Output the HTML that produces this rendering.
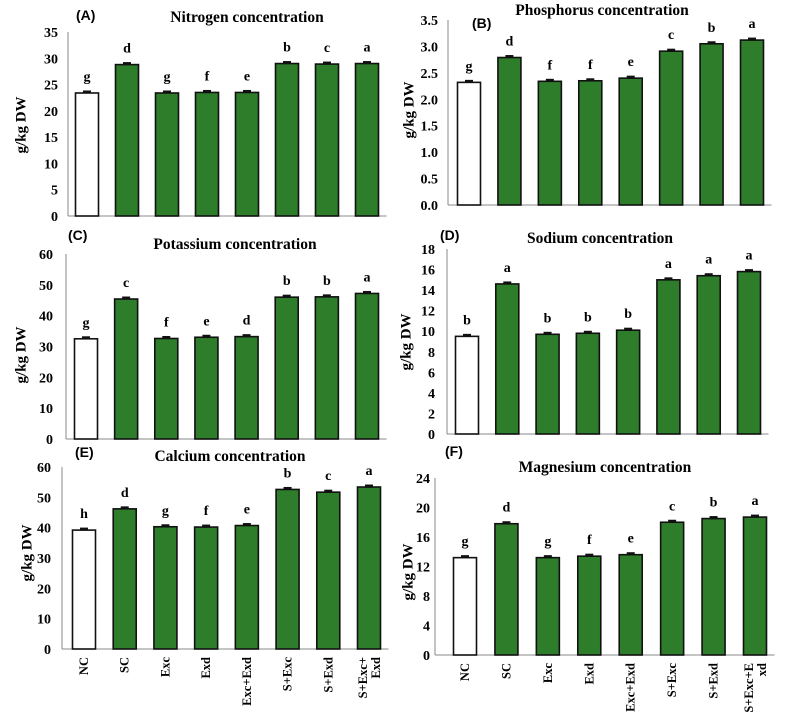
<!DOCTYPE html>
<html><head><meta charset="utf-8">
<style>
html,body{margin:0;padding:0;background:#fff;}
svg{display:block;font-family:"Liberation Serif","Times New Roman",serif;}
.tick,.title,.sig,.ytitle,.xl{font-family:"Liberation Serif","Times New Roman",serif;}
.tick{font-size:14px;font-weight:bold;}
.title{font-size:15.5px;font-weight:bold;}
.sig{font-size:14px;font-weight:bold;}
.plab{font-family:"Liberation Sans",sans-serif;font-size:14px;font-weight:bold;}
.ytitle{font-size:15px;font-weight:bold;}
.xl{font-size:12.5px;font-weight:bold;}
</style></head>
<body>
<svg id="fig" width="786" height="719" viewBox="0 0 786 719" xmlns="http://www.w3.org/2000/svg"></svg>
<script>
const categories = ["NC","SC","Exc","Exd","Exc+Exd","S+Exc","S+Exd","S+Exc+Exd"];
const nitrogenValues = [23.4, 28.8, 23.4, 23.5, 23.5, 29.0, 28.9, 29.0];
const nitrogenLetters = ["g","d","g","f","e","b","c","a"];
const phosphorusValues = [2.32, 2.79, 2.34, 2.35, 2.40, 2.91, 3.05, 3.12];
const phosphorusLetters = ["g","d","f","f","e","c","b","a"];
const potassiumValues = [32.5, 45.4, 32.6, 33.0, 33.2, 46.0, 46.1, 47.2];
const potassiumLetters = ["g","c","f","e","d","b","b","a"];
const sodiumValues = [9.5, 14.6, 9.7, 9.8, 10.1, 15.0, 15.4, 15.8];
const sodiumLetters = ["b","a","b","b","b","a","a","a"];
const calciumValues = [39.2, 46.2, 40.3, 40.2, 40.7, 52.6, 51.7, 53.4];
const calciumLetters = ["h","d","g","f","e","b","c","a"];
const magnesiumValues = [13.2, 17.8, 13.2, 13.4, 13.6, 18.0, 18.5, 18.7];
const magnesiumLetters = ["g","d","g","f","e","c","b","a"];
const nitrogenTicks = [0,5,10,15,20,25,30,35];
const phosphorusTicks = [0,0.5,1,1.5,2,2.5,3,3.5];
const potassiumTicks = [0,10,20,30,40,50,60];
const sodiumTicks = [0,2,4,6,8,10,12,14,16,18];
const calciumTicks = [0,10,20,30,40,50,60];
const magnesiumTicks = [0,4,8,12,16,20,24];

const svg = document.getElementById('fig');
const NS = 'http://www.w3.org/2000/svg';
function mk(tag, attrs, parent){
  const e = document.createElementNS(NS, tag);
  for (const k in attrs) e.setAttribute(k, attrs[k]);
  (parent||svg).appendChild(e);
  return e;
}

const panels = [
 {key:'nitrogen', letter:'(A)', title:'Nitrogen concentration', vals:nitrogenValues, lets:nitrogenLetters, ticks:nitrogenTicks, dec:0,
  ax:68, y0:216, yTop:32, c0:87, c1:367, tx:58, titleX:247, titleY:22, lx:76, ly:20, ytx:22, yty:125, xlabels:false},
 {key:'phosphorus', letter:'(B)', title:'Phosphorus concentration', vals:phosphorusValues, lets:phosphorusLetters, ticks:phosphorusTicks, dec:1,
  ax:448, y0:205, yTop:20, c0:469, c1:752, tx:438, titleX:602, titleY:15, lx:472, ly:28, ytx:410, yty:110, xlabels:false},
 {key:'potassium', letter:'(C)', title:'Potassium concentration', vals:potassiumValues, lets:potassiumLetters, ticks:potassiumTicks, dec:0,
  ax:66, y0:439, yTop:254, c0:86, c1:367, tx:53, titleX:235, titleY:249, lx:68, ly:240, ytx:22, yty:355, xlabels:false},
 {key:'sodium', letter:'(D)', title:'Sodium concentration', vals:sodiumValues, lets:sodiumLetters, ticks:sodiumTicks, dec:0,
  ax:447, y0:434, yTop:249, c0:467, c1:749, tx:435, titleX:600, titleY:243, lx:440, ly:240, ytx:407, yty:342, xlabels:false},
 {key:'calcium', letter:'(E)', title:'Calcium concentration', vals:calciumValues, lets:calciumLetters, ticks:calciumTicks, dec:0,
  ax:62, y0:649, yTop:467, c0:84, c1:369, tx:51, titleX:230, titleY:461, lx:75, ly:457, ytx:28, yty:553, xlabels:true, last:["S+Exc+","Exd"]},
 {key:'magnesium', letter:'(F)', title:'Magnesium concentration', vals:magnesiumValues, lets:magnesiumLetters, ticks:magnesiumTicks, dec:0,
  ax:435, y0:655, yTop:478, c0:465, c1:755, tx:430, titleX:605, titleY:472, lx:445, ly:456, ytx:409, yty:572, xlabels:true, last:["S+Exc+E","xd"]}
];

panels.forEach(p => {
  const g = mk('g', {});
  
  
  const tmax = p.ticks[p.ticks.length-1];
  const y = v => p.y0 - (v / tmax) * (p.y0 - p.yTop);
  const step = (p.c1 - p.c0) / (categories.length - 1);
  const x = i => p.c0 + i * step;
  const bw = 23;

  const pl = mk('text', {x:p.lx, y:p.ly, class:'plab'}, g);
  pl.textContent = p.letter;
  
  

  const t = mk('text', {x:p.titleX, y:p.titleY, class:'title', 'text-anchor':'middle'}, g);
  t.textContent = p.title;
  
  

  const yt = mk('text', {x:p.ytx, y:p.yty, class:'ytitle', 'text-anchor':'middle', transform:`rotate(-90 ${p.ytx} ${p.yty})`, 'dominant-baseline':'middle'}, g);
  yt.textContent = 'g/kg DW';
  
  

  const yax = mk('line', {x1:p.ax, y1:p.yTop, x2:p.ax, y2:p.y0, stroke:'#888', 'stroke-width':1}, g);
  
  
  const xax = mk('line', {x1:p.ax, y1:p.y0, x2:x(7)+bw/2+8, y2:p.y0, stroke:'#888', 'stroke-width':1}, g);
  
  

  p.ticks.forEach(tv => {
    const tl = mk('text', {x:p.tx, y:y(tv)+5, class:'tick', 'text-anchor':'end'}, g);
    tl.textContent = tv.toFixed(p.dec);
    
    
  });

  p.vals.forEach((v, i) => {
    const cx = x(i);
    const r = mk('rect', {x:cx-bw/2, y:y(v), width:bw, height:p.y0-y(v), fill: i===0 ? '#ffffff' : '#2e7d2b', stroke:'#111', 'stroke-width':1.6}, g);
    
    
    const eb = mk('rect', {x:cx-4, y:y(v)-2.5, width:8, height:3, fill:'#111'}, g);
    
    
    const s = mk('text', {x:cx, y:y(v)-12, class:'sig', 'text-anchor':'middle'}, g);
    s.textContent = p.lets[i];
    
    

    if (p.xlabels) {
      const top = p.y0 + 8;
      const isLast = i === categories.length - 1;
      const lines = isLast ? p.last : [categories[i]];
      const xl = mk('text', {class:'xl', 'text-anchor':'end', transform:`translate(${cx + (isLast ? -2 : 4)} ${top}) rotate(-90)`}, g);
      lines.forEach((ln, k) => {
        const ts = mk('tspan', {x:0, dy: k===0 ? 0 : 13}, xl);
        ts.textContent = ln;
      });
      
      
    }
  });
});
</script>
</body></html>
